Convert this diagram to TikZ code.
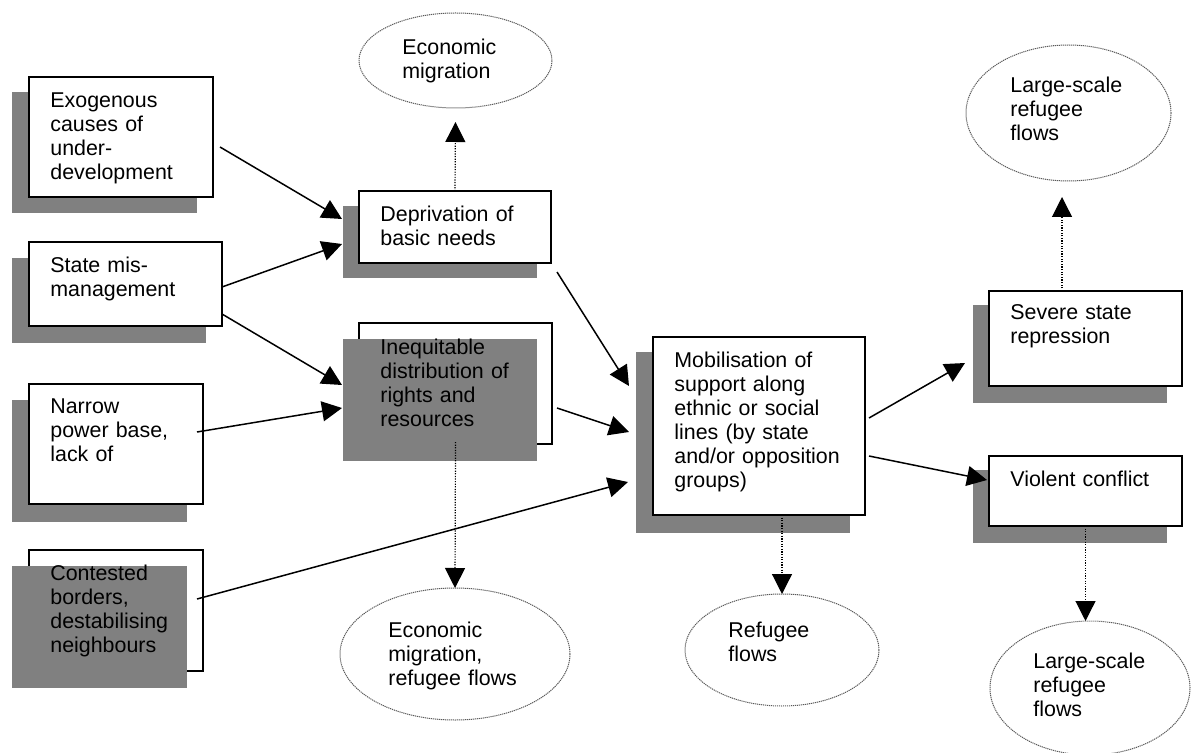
\documentclass[tikz,border=0pt]{standalone}
\usepackage{fontspec}
\setmainfont{Liberation Sans}
\usepackage{tikz}
\usetikzlibrary{arrows.meta,shapes.geometric,backgrounds}

\begin{document}
\begin{tikzpicture}[x=0.5pt,y=0.5pt,yscale=-1,xscale=1,
  box/.style={draw,line width=0.75pt,fill=white,rectangle,inner sep=0pt,outer sep=0pt,anchor=north west},
  blob/.style={draw=black!65,ellipse,line width=0.5pt,dash pattern={on 0.6pt off 0.4pt},inner sep=0pt,outer sep=0pt},
  shade/.style={fill=black!50},
  txt/.style={anchor=base west,inner sep=0pt,text width=115pt,align=left,font=\fontsize{10.7}{12}\selectfont},
  arr/.style={line width=0.75pt,-{Triangle[length=10pt,width=10pt]}},
  dotarr/.style={line width=0.6pt,dash pattern={on 0.6pt off 0.7pt},-{Triangle[length=10pt,width=10pt]}}]
\useasboundingbox (0,0) rectangle (1192,753);

%Shape: Ellipse
\node[blob,minimum width=96.5pt,minimum height=47.5pt] (ecmig1) at (455.5,60.5) {};
\node[blob,minimum width=115pt,minimum height=66pt] (ecmig2) at (455,654) {};
\node[blob,minimum width=97pt,minimum height=56pt] (refug) at (782,650) {};
\node[blob,minimum width=102.5pt,minimum height=68pt] (lsr1) at (1068.5,113) {};
\node[blob,minimum width=100pt,minimum height=67pt] (lsr2) at (1090,688) {};

%Shape: Rectangle
\node[box,minimum width=92pt,minimum height=60pt] (exo) at (29,77) {};
\node[box,minimum width=96.5pt,minimum height=42pt] (mis) at (29,242) {};
\node[box,minimum width=87pt,minimum height=60pt] (narrow) at (29,384) {};
\node[box,minimum width=87pt,minimum height=60.5pt] (contest) at (29,550) {};
\node[box,minimum width=96pt,minimum height=36pt] (depr) at (359,191) {};
\node[box,minimum width=96.5pt,minimum height=60.5pt] (ineq) at (359,323) {};
\node[box,minimum width=106pt,minimum height=89pt] (mob) at (653,337) {};
\node[box,minimum width=96.5pt,minimum height=47.5pt] (sev) at (989,291) {};
\node[box,minimum width=96.5pt,minimum height=35pt] (viol) at (989,456) {};

%Shape: Shadows
\begin{pgfonlayer}{background}
\fill[shade] ([shift={(-17,15)}]exo.north west) rectangle ([shift={(-16,16)}]exo.south east);
\fill[shade] ([shift={(-17,16)}]mis.north west) rectangle ([shift={(-16,17)}]mis.south east);
\fill[shade] ([shift={(-17,16)}]narrow.north west) rectangle ([shift={(-16,18)}]narrow.south east);
\fill[shade] ([shift={(-16,15)}]depr.north west) rectangle ([shift={(-14,15)}]depr.south east);
\fill[shade] ([shift={(-17,15)}]mob.north west) rectangle ([shift={(-15,18)}]mob.south east);
\fill[shade] ([shift={(-16,14)}]sev.north west) rectangle ([shift={(-15,17)}]sev.south east);
\fill[shade] ([shift={(-16,14)}]viol.north west) rectangle ([shift={(-15,17)}]viol.south east);
\end{pgfonlayer}
%Shape: Shadows drawn over the box
\fill[shade] ([shift={(-16,16)}]ineq.north west) rectangle ([shift={(-15,17)}]ineq.south east);
\fill[shade] ([shift={(-17,16)}]contest.north west) rectangle ([shift={(-16,17)}]contest.south east);

% Text Node
\node[txt] (exo-t) at (50,108) {Exogenous\\causes of\\under-\\development};
\node[txt] (mis-t) at (50,273) {State mis-\\management};
\node[txt] (narrow-t) at (50,413) {Narrow\\power base,\\lack of};
\node[txt] (contest-t) at (50,580) {Contested\\borders,\\destabilising\\neighbours};
\node[txt] (depr-t) at (380,222) {Deprivation of\\basic needs};
\node[txt] (ineq-t) at (380,354) {Inequitable\\distribution of\\rights and\\resources};
\node[txt] (mob-t) at (674,367) {Mobilisation of\\support along\\ethnic or social\\lines (by state\\and/or opposition\\groups)};
\node[txt] (sev-t) at (1010,320) {Severe state\\repression};
\node[txt] (viol-t) at (1010,486) {Violent conflict};
\node[txt] (ecmig1-t) at (402,55) {Economic\\migration};
\node[txt] (ecmig2-t) at (388,637) {Economic\\migration,\\refugee flows};
\node[txt] (refug-t) at (728,637) {Refugee\\flows};
\node[txt] (lsr1-t) at (1010,93) {Large-scale\\refugee\\flows};
\node[txt] (lsr2-t) at (1033,668) {Large-scale\\refugee\\flows};

%Straight Lines
\draw[arr] ([shift={(7,10)}]exo.east) -- ([shift={(-17,-8)}]depr.west);
\draw[arr] ([shift={(0,3)}]mis.east) -- ([shift={(-17,17)}]depr.west);
\draw[arr] ([shift={(0,30)}]mis.east) -- ([shift={(-17,1.5)}]ineq.west);
\draw[arr] ([shift={(-6,-12)}]narrow.east) -- ([shift={(-17,24.5)}]ineq.west);
\draw[arr] ([shift={(-6,-11.5)}]contest.east) -- ([shift={(-25,56)}]mob.west);
\draw[arr] ([shift={(6,9)}]depr.south east) -- ([shift={(-24,-40)}]mob.west);
\draw[arr] ([shift={(5,24.5)}]ineq.east) -- ([shift={(-24,6)}]mob.west);
\draw[arr] ([shift={(4,-8)}]mob.east) -- ([shift={(-24,24.5)}]sev.west);
\draw[arr] ([shift={(4,30)}]mob.east) -- ([shift={(-2,-11)}]viol.west);

%Dotted Lines
\draw[dotarr] (depr.north) -- ([shift={(0,14)}]ecmig1.south);
\draw[dotarr] ([shift={(0,-2)}]ineq.south) -- (ecmig2.north);
\draw[dotarr] ([shift={(23,0)}]mob.south) -- (refug.north);
\draw[dotarr] ([shift={(-23.5,0)}]sev.north) -- ([shift={(-6.5,16)}]lsr1.south);
\draw[dotarr] (viol.south) -- ([shift={(-4.5,0)}]lsr2.north);

\end{tikzpicture}
\end{document}
